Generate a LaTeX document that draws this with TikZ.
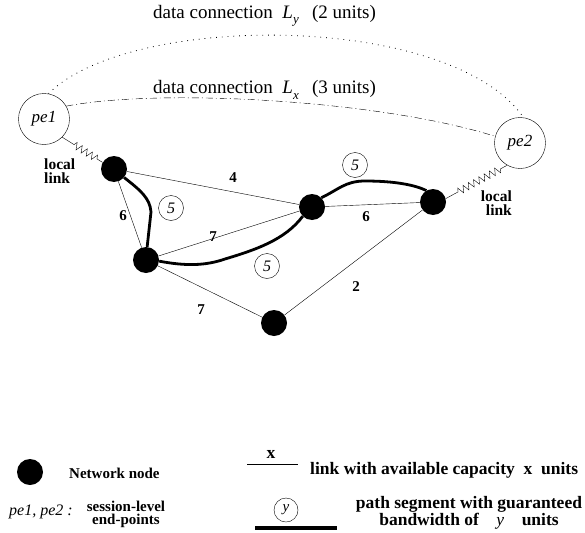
\documentclass[tikz,border=0pt]{standalone}
\usepackage{fontspec}
\setmainfont{Liberation Serif}
\usetikzlibrary{decorations.pathmorphing}
\begin{document}
\begin{tikzpicture}[x=1pt,y=-1pt,
  netnode/.style={circle,fill=black,minimum size=26pt,inner sep=0pt},
  endpt/.style={circle,draw,thin,minimum size=51pt,inner sep=0pt,font=\fontsize{17}{17}\selectfont\itshape},
  capl/.style={font=\fontsize{15}{15}\selectfont\bfseries,inner sep=0pt},
  bw/.style={circle,draw,thin,minimum size=25pt,inner sep=0pt,font=\fontsize{16}{16}\selectfont\itshape},
  link/.style={thin},
  pathseg/.style={line width=2.8pt},
  loclink/.style={thin,decorate,decoration={zigzag,segment length=6pt,amplitude=3.5pt,pre length=14pt,post length=6pt}},
  lbl/.style={font=\fontsize{15.5}{13.5}\selectfont\bfseries,inner sep=0pt},
  ttl/.style={font=\fontsize{19}{19}\selectfont,inner sep=0pt,anchor=west},
  legl/.style={font=\fontsize{15}{15}\selectfont\bfseries,inner sep=0pt},
  legr/.style={font=\fontsize{17.5}{13.5}\selectfont\bfseries,inner sep=0pt,align=center},
  dataly/.style={line width=0.8pt,dash pattern=on 0.8pt off 5pt},
  datalx/.style={thin,dash pattern=on 7pt off 3pt on 1pt off 3pt}]
\useasboundingbox (0,0) rectangle (585,532);
% end points
\node[endpt] (pe1) at (44,119) {pe1};
\node[endpt] (pe2) at (520,143) {pe2};
% network nodes
\node[netnode] (A) at (114,169) {};
\node[netnode] (B) at (146,260) {};
\node[netnode] (C) at (312,207) {};
\node[netnode] (D) at (433,202) {};
\node[netnode] (E) at (274,323) {};
% links
\draw[link] (A) -- (C);
\draw[link] (A) -- (B);
\draw[link] (B) -- (C);
\draw[link] (C) -- (D);
\draw[link] (B) -- (E);
\draw[link] (E) -- (D);
% capacities
\node[capl] (c1) at (233,178) {4};
\node[capl] (c2) at (123,216) {6};
\node[capl] (c3) at (213,237) {7};
\node[capl] (c4) at (366,217) {6};
\node[capl] (c5) at (201,310) {7};
\node[capl] (c6) at (356,287) {2};
% path segments
\draw[pathseg] (A.-40) .. controls (140,190) and (150,198) .. (151,212) -- (B.85);
\draw[pathseg] (B.-5) .. controls (185,266) and (205,266) .. (225,259) .. controls (255,250) and (285,240) .. (C.-135);
\draw[pathseg] (C.45) .. controls (338,190) and (345,181) .. (365,181) .. controls (395,181) and (415,185) .. (D.120);
\node[bw] (s1) at (171,208) {5};
\node[bw] (s2) at (267,266) {5};
\node[bw] (s3) at (355,165) {5};
% local links
\draw[loclink] (pe1.-45) -- (A.150);
\draw[loclink] (D.15) -- (pe2.-120);
\node[lbl,align=left,anchor=west] (ll1) at (44,171) {local\\link};
\node[lbl,align=right,anchor=east] (ll2) at (512,203) {local\\link};
% data connections
\draw[dataly] (pe1.80) .. controls (130,12) and (450,12) .. (pe2.82);
\draw[datalx] (pe1.30) .. controls (160,88) and (380,100) .. (pe2.165);
\node[ttl] (ty) at (153,16) {data connection~~\textit{L}\raisebox{-0.6ex}{\fontsize{13}{13}\selectfont\itshape y}\hspace{0.7em}(2 units)};
\node[ttl] (tx) at (153,90) {data connection~~\textit{L}\raisebox{-0.6ex}{\fontsize{13}{13}\selectfont\itshape x}\hspace{0.7em}(3 units)};
% legend
\node[netnode] (ln) at (30,472) {};
\node[legl,anchor=west] (lnt) at (69,473) {Network node};
\coordinate (lx1) at (247,464);
\coordinate (lx2) at (298,464);
\draw[link] (lx1) -- (lx2);
\node[legr] (lxt) at (271,454) {x};
\node[legr,anchor=west] (lxd) at (310,470) {link with available capacity~~x~~units};
\node[font=\fontsize{16}{16}\selectfont\itshape,anchor=west,inner sep=0pt] (lpe) at (9,512) {pe1, pe2 :};
\node[legl,font=\fontsize{15}{13}\selectfont\bfseries,align=center] (lpet) at (126,514) {session-level\\end-points};
\node[bw,minimum size=24pt,font=\fontsize{15}{15}\selectfont\itshape] (ly) at (286,510) {y};
\coordinate (ly1) at (255,528);
\coordinate (ly2) at (337,528);
\draw[line width=3.3pt] (ly1) -- (ly2);
\node[legr] (lyt) at (469,513) {path segment with guaranteed\\bandwidth of\hspace{0.75em} \textmd{\textit{y}}\hspace{0.75em} units};
\end{tikzpicture}
\end{document}
